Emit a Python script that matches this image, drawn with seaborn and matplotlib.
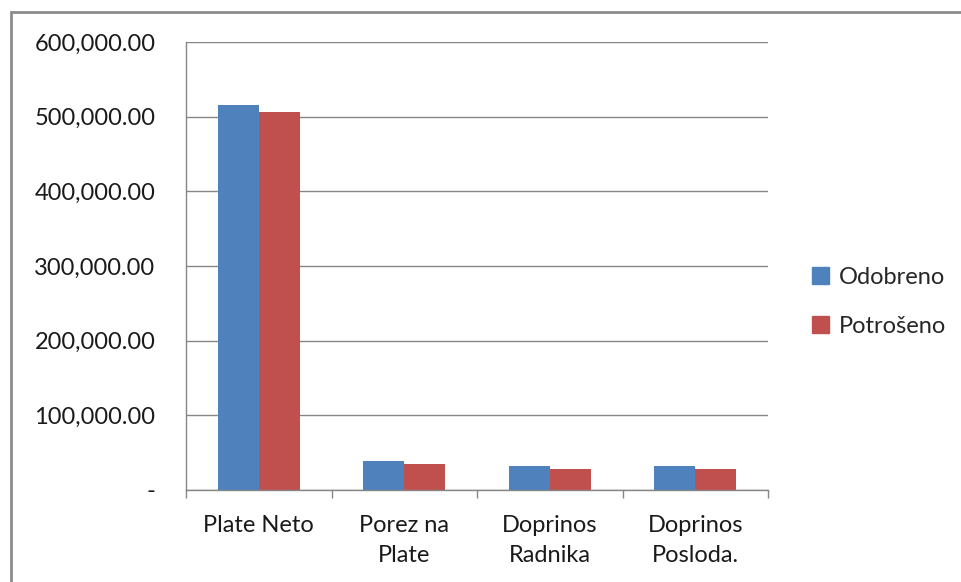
import pandas as pd
import numpy as np
import matplotlib.pyplot as plt
import seaborn as sns
from matplotlib.patches import Rectangle
from matplotlib.ticker import FuncFormatter, FixedLocator

sns.set_theme(style="white")
plt.rcParams['font.family'] = ['Lato', 'DejaVu Sans']

# data
categories = ['Plate Neto', 'Porez na\nPlate', 'Doprinos\nRadnika', 'Doprinos\nPosloda.']
odobreno = [516000, 38400, 31700, 31700]
potroseno = [505800, 34800, 27700, 27700]
series_names = ['Odobreno', 'Potrošeno']
colors = ['#4F81BD', '#C0504D']

df = pd.DataFrame({
    'Kategorija': categories * 2,
    'Iznos': odobreno + potroseno,
    'Serija': [series_names[0]] * len(categories) + [series_names[1]] * len(categories),
})

fig = plt.figure(figsize=(9.61, 5.82), dpi=100)
ax = fig.add_axes([186 / 961, 1 - 490 / 582, (768 - 186) / 961, (490 - 42) / 582])

sns.barplot(data=df, x='Kategorija', y='Iznos', hue='Serija', palette=colors,
            width=0.566, saturation=1, linewidth=0, ax=ax, legend=False)

grid_c = '#868686'
fs = 17
ax.set_ylim(0, 600000)
ax.set_xlim(-0.5, len(categories) - 0.5)
ax.set_yticks(np.arange(0, 600001, 100000))
ax.yaxis.set_major_formatter(FuncFormatter(lambda v, p: '-' if v == 0 else f'{v:,.2f}'))
ax.grid(axis='y', color=grid_c, linewidth=1)
ax.set_axisbelow(True)
ax.set_xlabel('')
ax.set_ylabel('')

for s in ['top', 'right']:
    ax.spines[s].set_visible(False)
for s in ['left', 'bottom']:
    ax.spines[s].set_color(grid_c)
    ax.spines[s].set_linewidth(1)

ax.tick_params(axis='y', length=6, color=grid_c, width=1, pad=16, labelsize=fs, labelcolor='#1a1a1a')
ax.tick_params(axis='x', which='major', length=0, pad=18, labelsize=fs, labelcolor='#1a1a1a')
ax.xaxis.set_minor_locator(FixedLocator(np.arange(-0.5, len(categories), 1.0)))
ax.tick_params(axis='x', which='minor', bottom=True, length=6, color=grid_c, width=1)
for lbl in ax.get_xticklabels():
    lbl.set_linespacing(1.55)

handles = [Rectangle((0, 0), 1, 1, color=c) for c in colors]
fig.legend(handles, series_names, loc='center left', bbox_to_anchor=(812 / 961, 1 - 302 / 582),
           frameon=False, fontsize=fs, handlelength=0.72, handleheight=0.72,
           handletextpad=0.4, labelspacing=1.2, borderaxespad=0, borderpad=0)

# chart area border
fig.add_artist(Rectangle((11 / 961, -0.01), 1.0, 1 - 12 / 582 + 0.01, transform=fig.transFigure,
                         fill=False, edgecolor='#8c8c8c', linewidth=2))

fig.savefig('out.png', dpi=100)
